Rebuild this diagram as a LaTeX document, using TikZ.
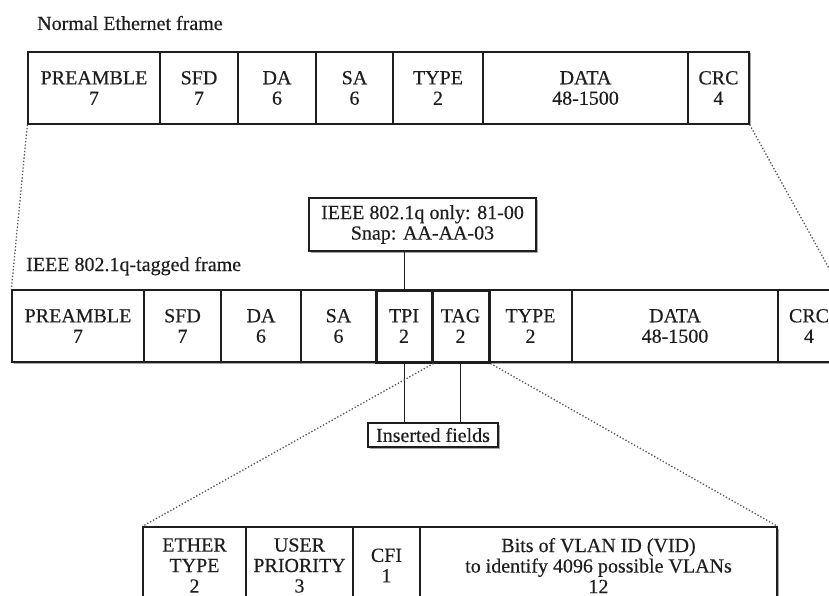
\documentclass[tikz,border=0pt]{standalone}
\usepackage{fontspec}
\setmainfont{Liberation Serif}[FakeBold=0.35]
\usetikzlibrary{shadows}
\definecolor{ink}{HTML}{1E1E1E}
\definecolor{dotc}{HTML}{555555}
\tikzset{
 cell/.style={draw=ink, line width=1.3pt, fill=white, inner sep=0pt, align=center,
   font=\fontsize{20}{20.5}\selectfont, text=ink,
   drop shadow={shadow xshift=1.5pt, shadow yshift=-1.5pt, opacity=0.35, fill=black}},
 thickcell/.style={cell, line width=3pt},
 lbl/.style={anchor=base west, inner sep=0pt, font=\fontsize{20}{20.5}\selectfont, text=ink},
 conn/.style={draw=ink, line width=1.2pt},
 zoomline/.style={draw=dotc, line width=1.3pt, dotted},
}
\newcommand\fcell[7][cell]{\node[#1, minimum width={(#4-#3)*1pt}, minimum height={(#6-#5)*1pt}] (#2) at ({(#3+#4)/2},{(#5+#6)/2}) {#7};}
\begin{document}
\begin{tikzpicture}[x=1pt,y=-1pt]
\clip (0,0) rectangle (829,596);
\fill[white] (0,0) rectangle (829,596);
% titles
\node[lbl] (t1) at (37,30) {Normal Ethernet frame};
\node[lbl] (t2) at (26,271) {IEEE 802.1q-tagged frame};
% normal frame
\fcell{a1}{28}{160}{52}{124}{PREAMBLE\\7}
\fcell{a2}{160}{238}{52}{124}{SFD\\7}
\fcell{a3}{238}{316}{52}{124}{DA\\6}
\fcell{a4}{316}{393}{52}{124}{SA\\6}
\fcell{a5}{393}{483}{52}{124}{TYPE\\2}
\fcell{a6}{483}{688}{52}{124}{DATA\\48-1500}
\fcell{a7}{688}{749}{52}{124}{CRC\\4}
% tagged frame
\fcell{b1}{12}{144}{290}{362}{PREAMBLE\\7}
\fcell{b2}{144}{221}{290}{362}{SFD\\7}
\fcell{b3}{221}{301}{290}{362}{DA\\6}
\fcell{b4}{301}{376}{290}{362}{SA\\6}
\fcell{b7}{489}{572}{290}{362}{TYPE\\2}
\fcell{b8}{572}{778}{290}{362}{DATA\\48-1500}
\fcell{b9}{778}{840}{290}{362}{CRC\\4}
\fcell[thickcell]{b5}{376}{432}{290}{362}{TPI\\2}
\fcell[thickcell]{b6}{432}{489}{290}{362}{TAG\\2}
% callout boxes
\fcell{ieee}{309}{536}{198}{251}{IEEE 802.1q only: 81-00\\Snap: AA-AA-03}
\fcell{ins}{368}{498}{423}{447}{Inserted fields}
% tag detail
\fcell{c1}{143}{246}{527}{604}{ETHER\\TYPE\\2}
\fcell{c2}{246}{353}{527}{604}{USER\\PRIORITY\\3}
\fcell{c3}{353}{420}{527}{604}{CFI\\1}
\fcell{c4}{420}{777}{527}{604}{Bits of VLAN ID (VID)\\to identify 4096 possible VLANs\\12}
% connectors
\coordinate (tpix) at ([xshift=0.5pt]b5.south);
\draw[conn] (tpix |- ieee.south) -- (tpix |- b5.north);
\draw[conn] (tpix) -- (tpix |- ins.north);
\draw[conn] (b6.south) -- (b6.south |- ins.north);
% zoom lines
\draw[zoomline] (a1.south west) -- (b1.north west);
\draw[zoomline] (a7.south east) -- (b9.north east);
\draw[zoomline] (b5.south east) -- (c1.north west);
\draw[zoomline] (b6.south east) -- (c4.north east);
\end{tikzpicture}
\end{document}
